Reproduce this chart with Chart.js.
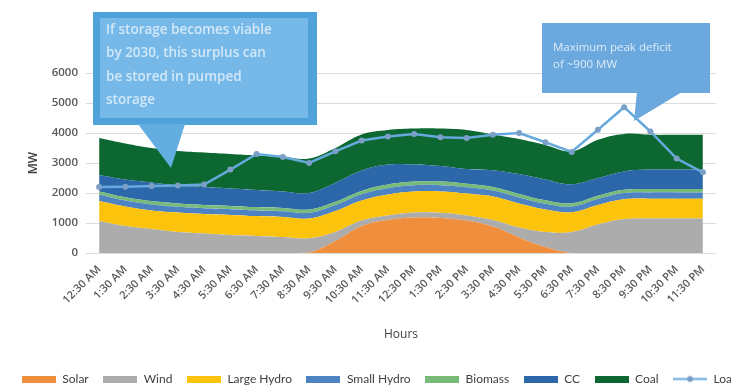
<!DOCTYPE html>
<html>
<head>
<meta charset="utf-8">
<script src="https://cdn.jsdelivr.net/npm/chart.js@4.4.1/dist/chart.umd.min.js"></script>
<style>
  html, body { margin: 0; padding: 0; background: #fff; overflow: hidden; }
  #wrap { width: 760px; height: 395px; }
</style>
</head>
<body>
<div id="wrap"><canvas id="genChart" width="760" height="395"></canvas></div>
<script>
// data (MW)
const hours = ["12:30 AM", "1:30 AM", "2:30 AM", "3:30 AM", "4:30 AM", "5:30 AM", "6:30 AM", "7:30 AM",
    "8:30 AM", "9:30 AM", "10:30 AM", "11:30 AM", "12:30 PM", "1:30 PM", "2:30 PM", "3:30 PM",
    "4:30 PM", "5:30 PM", "6:30 PM", "7:30 PM", "8:30 PM", "9:30 PM", "10:30 PM", "11:30 PM"];

const solar = [0, 0, 0, 0, 0, 0, 0, 0, 20, 400, 900, 1100, 1180, 1170, 1080, 880, 520, 200, 0, 0, 0, 0, 0, 0];
const wind = [1070, 900, 800, 700, 650, 600, 570, 530, 470, 300, 180, 150, 170, 170, 170, 220, 330, 500, 700, 950, 1130, 1150, 1150, 1150];
const largeHydro = [663, 650, 620, 650, 650, 670, 660, 670, 660, 700, 670, 700, 700, 710, 730, 780, 800, 750, 660, 650, 660, 660, 660, 660];
const smallHydro = [210, 200, 200, 190, 190, 190, 190, 190, 190, 200, 210, 210, 210, 210, 210, 200, 200, 190, 190, 200, 210, 210, 210, 210];
const biomass = [110, 110, 110, 110, 110, 110, 110, 110, 110, 110, 110, 120, 120, 120, 120, 120, 120, 120, 110, 110, 110, 110, 110, 110];
const cc = [550, 590, 620, 600, 600, 580, 570, 550, 550, 630, 680, 670, 570, 520, 490, 560, 660, 690, 630, 590, 610, 650, 650, 650];
const coal = [1230, 1200, 1150, 1150, 1150, 1150, 1150, 1150, 1150, 1160, 1200, 1150, 1200, 1250, 1300, 1190, 1170, 1150, 1100, 1275, 1250, 1160, 1160, 1160];
const load = [2200, 2210, 2230, 2250, 2280, 2780, 3300, 3200, 3000, 3390, 3750, 3880, 3970, 3860, 3830, 3940, 4000, 3690, 3370, 4110, 4860, 4050, 3150, 2690];

const yTicks = [0, 1000, 2000, 3000, 4000, 5000, 6000];

const colors = {
    solar: '#ef8e3c',
    wind: '#acacac',
    largeHydro: '#fcc30c',
    smallHydro: '#4d82c3',
    biomass: '#78bb78',
    cc: '#2c67aa',
    coal: '#0c6830',
    load: '#66a9dc'
};

const fontFam = '"Open Sans", "DejaVu Sans", sans-serif';
const legendFont = 'Lato, "Open Sans", sans-serif';

function area(label, values, color, fill) {
    return {
        label: label,
        data: values,
        backgroundColor: color,
        borderColor: color,
        borderWidth: 0,
        pointRadius: 0,
        fill: fill,
        tension: 0.4,
        stack: 'gen'
    };
}

// legend icons
function swatch(color) {
    const c = document.createElement('canvas');
    c.width = 34; c.height = 7;
    const g = c.getContext('2d');
    g.fillStyle = color;
    g.fillRect(0, 0, 34, 7);
    return c;
}
function lineIcon(color) {
    const c = document.createElement('canvas');
    c.width = 34; c.height = 9;
    const g = c.getContext('2d');
    g.strokeStyle = color; g.lineWidth = 2;
    g.beginPath(); g.moveTo(0, 4.5); g.lineTo(34, 4.5); g.stroke();
    g.fillStyle = '#7b9fc6';
    g.beginPath(); g.arc(17, 4.5, 3, 0, Math.PI * 2); g.fill();
    return c;
}

// text boxes on top of the chart
const callouts = {
    id: 'callouts',
    afterDraw(chart) {
        const ctx = chart.ctx;
        ctx.save();
        // left box
        ctx.fillStyle = '#4fa2da';
        ctx.fillRect(93, 12, 224, 113);
        ctx.fillStyle = '#76b9e8';
        ctx.fillRect(100, 18, 208, 100);
        ctx.fillStyle = '#64ade0';
        ctx.beginPath();
        ctx.moveTo(138, 124); ctx.lineTo(185, 124); ctx.lineTo(171, 168);
        ctx.closePath(); ctx.fill();
        ctx.fillStyle = '#d2e8f8';
        ctx.font = '600 13.5px ' + fontFam;
        ctx.textBaseline = 'middle';
        ['If storage becomes viable', 'by 2030, this surplus can', 'be stored in pumped', 'storage']
            .forEach((t, i) => ctx.fillText(t, 106, 30 + i * 23.5));

        // right box
        ctx.fillStyle = '#6aa8dd';
        ctx.fillRect(542, 23, 168, 70);
        ctx.beginPath();
        ctx.moveTo(637, 92); ctx.lineTo(682, 92); ctx.lineTo(634, 121);
        ctx.closePath(); ctx.fill();
        ctx.fillStyle = '#dcecf9';
        ctx.font = '11.5px ' + fontFam;
        ctx.fillText('Maximum peak deficit', 553, 48);
        ctx.fillText('of ~900 MW', 553, 65);
        ctx.restore();
    }
};

const ctx = document.getElementById('genChart').getContext('2d');

new Chart(ctx, {
    type: 'line',
    data: {
        labels: hours,
        datasets: [
            area('Solar', solar, colors.solar, 'origin'),
            area('Wind', wind, colors.wind, '-1'),
            area('Large Hydro', largeHydro, colors.largeHydro, '-1'),
            area('Small Hydro', smallHydro, colors.smallHydro, '-1'),
            area('Biomass', biomass, colors.biomass, '-1'),
            area('CC', cc, colors.cc, '-1'),
            area('Coal', coal, colors.coal, '-1'),
            {
                label: 'Load',
                data: load,
                borderColor: colors.load,
                backgroundColor: '#7b9fc6',
                borderWidth: 2.5,
                pointRadius: 3,
                pointBorderWidth: 0,
                pointBackgroundColor: '#7b9fc6',
                fill: false,
                tension: 0,
                stack: 'load',
                order: -1
            }
        ]
    },
    options: {
        responsive: false,
        animation: false,
        layout: { padding: { top: 73, left: 0, right: 0, bottom: 0 } },
        plugins: {
            tooltip: { enabled: false },
            legend: {
                position: 'bottom',
                labels: {
                    usePointStyle: true,
                    pointStyleWidth: 35,
                    padding: 14,
                    color: '#404040',
                    font: { family: legendFont, size: 12 },
                    sort: (a, b) => a.datasetIndex - b.datasetIndex,
                    generateLabels(chart) {
                        const items = Chart.defaults.plugins.legend.labels.generateLabels(chart);
                        items.forEach(it => {
                            const ds = chart.data.datasets[it.datasetIndex];
                            it.pointStyle = ds.label === 'Load' ? lineIcon(colors.load) : swatch(ds.backgroundColor);
                        });
                        return items;
                    }
                }
            }
        },
        scales: {
            x: {
                offset: true,
                grid: { display: false },
                border: { display: false },
                ticks: {
                    autoSkip: false,
                    maxRotation: 45,
                    minRotation: 45,
                    padding: 2,
                    color: '#595959',
                    font: { family: fontFam, size: 11, weight: '600' }
                },
                title: {
                    display: true,
                    text: 'Hours',
                    color: '#404040',
                    font: { family: fontFam, size: 12 },
                    padding: { top: 0, bottom: 17 }
                },
                afterFit(scale) { scale.height = 106; }
            },
            y: {
                stacked: true,
                min: 0,
                max: 6000,
                afterBuildTicks(scale) { scale.ticks = yTicks.map(v => ({ value: v })); },
                grid: { color: '#dcdcdc', drawTicks: false },
                border: { display: false },
                ticks: {
                    padding: 8,
                    color: '#595959',
                    font: { family: fontFam, size: 11.5, weight: '600' },
                    callback: v => String(v)
                },
                title: {
                    display: true,
                    text: 'MW',
                    color: '#404040',
                    font: { family: fontFam, size: 12, weight: '600' },
                    padding: { top: 26, bottom: 0 }
                },
                afterFit(scale) { scale.width = 86; }
            },
            // empty right margin so the legend can use the whole width
            spacer: {
                position: 'right',
                grid: { display: false },
                border: { display: false },
                ticks: { display: false },
                afterFit(scale) { scale.width = 44; }
            }
        }
    },
    plugins: [callouts]
});
</script>
</body>
</html>
